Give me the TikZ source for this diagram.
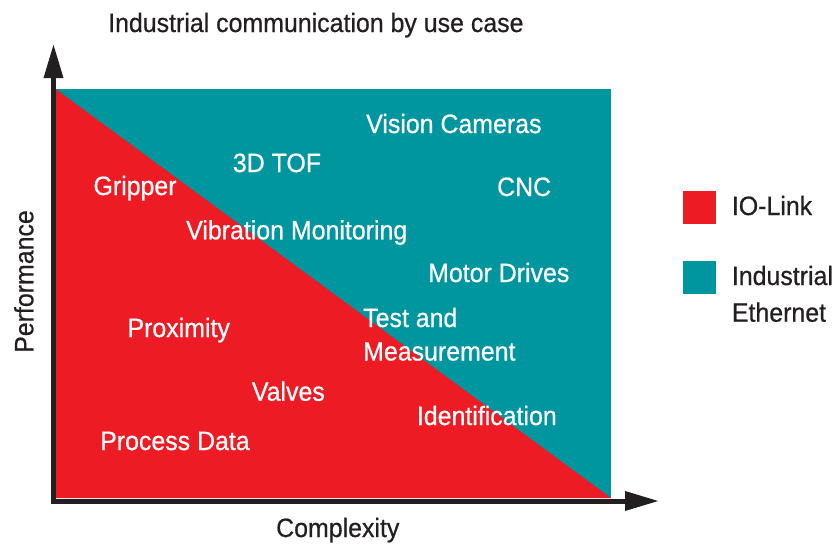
\documentclass[tikz,border=0pt]{standalone}
\usepackage{fontspec}
\setmainfont{Liberation Sans}[FakeStretch=0.94,FakeBold=0.6]
\usetikzlibrary{arrows.meta}
\definecolor{iored}{HTML}{ED1C24}
\definecolor{ethteal}{HTML}{0096A0}
\definecolor{axisblack}{HTML}{231F20}
\tikzset{
  lbl/.style={anchor=base west, inner sep=0pt, text=white, font=\fontsize{26.5}{30}\selectfont},
  dark/.style={anchor=base west, inner sep=0pt, text=axisblack, font=\fontsize{26.5}{30}\selectfont},
  axis/.style={line width=5pt, draw=axisblack, -{Triangle[length=34pt,width=18.5pt]}},
  swatch/.style={inner sep=0pt, minimum width=33pt, minimum height=33pt}
}
\begin{document}
\begin{tikzpicture}[x=1pt,y=-1pt]
\useasboundingbox (0,0) rectangle (839,546);
% regions
\fill[ethteal] (56,89.3) rectangle (611,498);
\fill[iored] (56,89.3) -- (611,498) -- (56,498) -- cycle;
% axes
\coordinate (origin) at (53.5,501);
\coordinate (ytip) at (53.5,44);
\coordinate (xtip) at (659,501);
\draw[axis] (53.5,503.5) -- (ytip);
\draw[axis] (51,501) -- (xtip);
% title and axis labels
\node[dark] (title) at (108,32) {Industrial communication by use case};
\node[dark] (xlabel) at (276,537) {Complexity};
\node[dark, rotate=90] (ylabel) at (33.3,353) {Performance};
% labels
\node[lbl] (vision) at (366,133) {Vision Cameras};
\node[lbl] (tof) at (232.7,172) {3D TOF};
\node[lbl] (gripper) at (93.3,195) {Gripper};
\node[lbl] (cnc) at (497,196) {CNC};
\node[lbl] (vib) at (186,239.3) {Vibration Monitoring};
\node[lbl] (motor) at (428,282) {Motor Drives};
\node[lbl] (test) at (363,327) {Test and};
\node[lbl] (meas) at (363,360.5) {Measurement};
\node[lbl] (prox) at (127.3,337) {Proximity};
\node[lbl] (valves) at (251.7,400.7) {Valves};
\node[lbl] (ident) at (416.7,425) {Identification};
\node[lbl] (proc) at (100,450) {Process Data};
% legend
\node[swatch, fill=iored, anchor=north west] (sw1) at (682.7,190.7) {};
\node[swatch, fill=ethteal, anchor=north west] (sw2) at (682.7,260.7) {};
\node[dark] (leg1) at (731.7,215) {IO-Link};
\node[dark] (leg2) at (731.7,285) {Industrial};
\node[dark] (leg3) at (731.7,321.7) {Ethernet};
\end{tikzpicture}
\end{document}
